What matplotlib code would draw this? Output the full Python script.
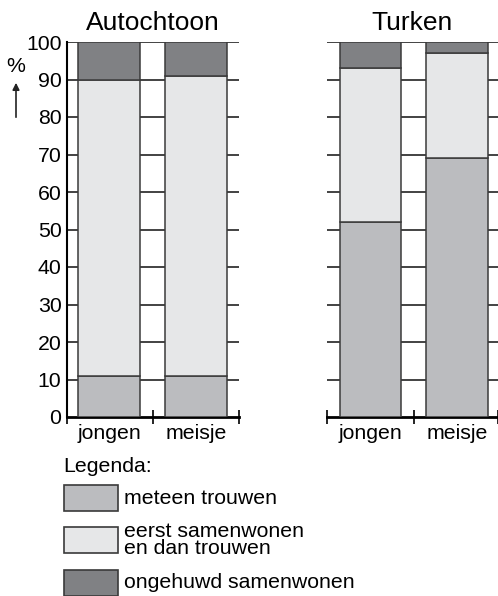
import numpy as np
import matplotlib.pyplot as plt
from matplotlib.patches import Rectangle, FancyArrowPatch

plt.rcParams['font.family'] = ['Liberation Sans', 'DejaVu Sans']

# data (percentages)
groups = ['Autochtoon', 'Turken']
cats = ['jongen', 'meisje']
meteen = {'Autochtoon': [11, 11], 'Turken': [52, 69]}
eerst = {'Autochtoon': [79, 80], 'Turken': [41, 28]}
ongehuwd = {'Autochtoon': [10, 9], 'Turken': [7, 3]}
yticks = list(range(0, 101, 10))

legend_labels = ['meteen trouwen', 'eerst samenwonen\nen dan trouwen', 'ongehuwd samenwonen']
colors = ['#bbbcbf', '#e6e7e8', '#808184']
edge = '#3a3a3a'
fs = 15.3

W, H = 498, 596
fig = plt.figure(figsize=(W / 100, H / 100), dpi=100)

def px_axes(x0, x1, y0, y1):
    return fig.add_axes([x0 / W, 1 - y1 / H, (x1 - x0) / W, (y1 - y0) / H])

axL = px_axes(67, 239, 42, 417)
axR = px_axes(327, 498, 42, 417)

xlims = {'Autochtoon': (-0.483, 1.494), 'Turken': (-0.503, 1.474)}
x = np.arange(len(cats))
for ax, g in zip([axL, axR], groups):
    a = np.array(meteen[g])
    b = np.array(eerst[g])
    c = np.array(ongehuwd[g])
    for bottom, vals, col in [(0, a, colors[0]), (a, b, colors[1]), (a + b, c, colors[2])]:
        ax.bar(x, vals, bottom=bottom, width=0.715, color=col, edgecolor=edge,
               linewidth=1.1, zorder=3)
    ax.set_ylim(0, 100)
    ax.set_xlim(*xlims[g])
    for yv in yticks[1:]:
        ax.axhline(yv, color='#222222', lw=1.2, zorder=1)
    ax.set_yticks(yticks)
    ax.tick_params(axis='y', length=0, labelsize=fs, pad=4)
    ax.set_xticks(x)
    ax.set_xticklabels(cats, fontsize=fs)
    ax.tick_params(axis='x', length=0, pad=5)
    lo, hi = ax.get_xlim()
    ax.set_xticks([lo, 0.5, hi], minor=True)
    ax.tick_params(axis='x', which='minor', direction='inout', length=10, width=1.2)
    for s in ['top', 'right']:
        ax.spines[s].set_visible(False)
    ax.spines['bottom'].set_linewidth(2)
    ax.spines['left'].set_linewidth(1.5)
    ax.set_title(g, fontsize=19, pad=9)

axR.spines['left'].set_visible(False)
axR.tick_params(axis='y', labelleft=False)

# y-axis label with arrow
fig.text(16 / W, 1 - 66 / H, '%', fontsize=fs, ha='center', va='center')
fig.add_artist(FancyArrowPatch(
    (16 / W, 1 - 120 / H), (16 / W, 1 - 80 / H), transform=fig.transFigure,
    arrowstyle='-|>', mutation_scale=10, color='#222222', lw=1.2))

# legend
fig.text(63 / W, 1 - 466 / H, 'Legenda:', fontsize=fs, ha='left', va='center')
boxes = [(485, 511), (527, 553), (570, 596)]
for (y0, y1), col, lab in zip(boxes, colors, legend_labels):
    fig.add_artist(Rectangle((64 / W, 1 - y1 / H), 54 / W, (y1 - y0) / H,
                             transform=fig.transFigure, facecolor=col,
                             edgecolor=edge, lw=1.2))
    fig.text(124 / W, 1 - (y0 + y1) / 2 / H, lab, fontsize=fs, ha='left',
             va='center', linespacing=0.9)

fig.savefig('out.png', dpi=100)
